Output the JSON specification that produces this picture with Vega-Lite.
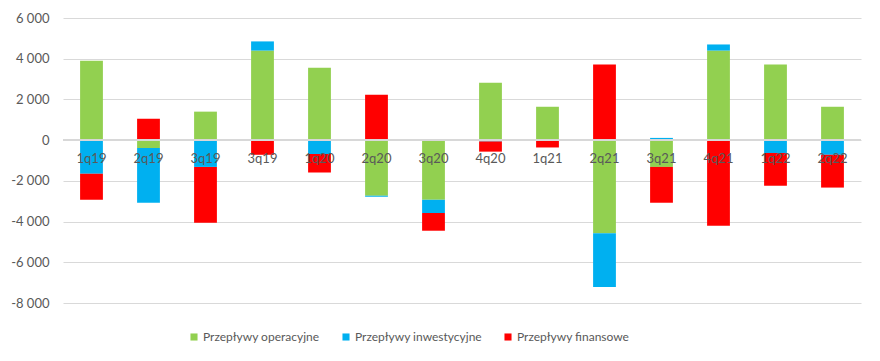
{
  "$schema": "https://vega.github.io/schema/vega-lite/v6.json",
  "width": 798,
  "height": 285,
  "autosize": "none",
  "padding": {"left": 63, "top": 18, "right": 19, "bottom": 58},
  "background": "white",
  "data": {
    "values": [
      {"q": "1q19", "s": "Przepływy operacyjne", "o": 1, "v": 3900},
      {"q": "1q19", "s": "Przepływy inwestycyjne", "o": 2, "v": -1650},
      {"q": "1q19", "s": "Przepływy finansowe", "o": 3, "v": -1280},
      {"q": "2q19", "s": "Przepływy operacyjne", "o": 1, "v": -380},
      {"q": "2q19", "s": "Przepływy inwestycyjne", "o": 2, "v": -2700},
      {"q": "2q19", "s": "Przepływy finansowe", "o": 3, "v": 1050},
      {"q": "3q19", "s": "Przepływy operacyjne", "o": 1, "v": 1400},
      {"q": "3q19", "s": "Przepływy inwestycyjne", "o": 2, "v": -1315},
      {"q": "3q19", "s": "Przepływy finansowe", "o": 3, "v": -2745},
      {"q": "4q19", "s": "Przepływy operacyjne", "o": 1, "v": 4400},
      {"q": "4q19", "s": "Przepływy inwestycyjne", "o": 2, "v": 450},
      {"q": "4q19", "s": "Przepływy finansowe", "o": 3, "v": -720},
      {"q": "1q20", "s": "Przepływy operacyjne", "o": 1, "v": 3560},
      {"q": "1q20", "s": "Przepływy inwestycyjne", "o": 2, "v": -675},
      {"q": "1q20", "s": "Przepływy finansowe", "o": 3, "v": -920},
      {"q": "2q20", "s": "Przepływy operacyjne", "o": 1, "v": -2730},
      {"q": "2q20", "s": "Przepływy inwestycyjne", "o": 2, "v": -50},
      {"q": "2q20", "s": "Przepływy finansowe", "o": 3, "v": 2230},
      {"q": "3q20", "s": "Przepływy operacyjne", "o": 1, "v": -2930},
      {"q": "3q20", "s": "Przepływy inwestycyjne", "o": 2, "v": -650},
      {"q": "3q20", "s": "Przepływy finansowe", "o": 3, "v": -870},
      {"q": "4q20", "s": "Przepływy operacyjne", "o": 1, "v": 2820},
      {"q": "4q20", "s": "Przepływy inwestycyjne", "o": 2, "v": -65},
      {"q": "4q20", "s": "Przepływy finansowe", "o": 3, "v": -500},
      {"q": "1q21", "s": "Przepływy operacyjne", "o": 1, "v": 1640},
      {"q": "1q21", "s": "Przepływy inwestycyjne", "o": 2, "v": 0},
      {"q": "1q21", "s": "Przepływy finansowe", "o": 3, "v": -360},
      {"q": "2q21", "s": "Przepływy operacyjne", "o": 1, "v": -4570},
      {"q": "2q21", "s": "Przepływy inwestycyjne", "o": 2, "v": -2645},
      {"q": "2q21", "s": "Przepływy finansowe", "o": 3, "v": 3710},
      {"q": "3q21", "s": "Przepływy operacyjne", "o": 1, "v": -1315},
      {"q": "3q21", "s": "Przepływy inwestycyjne", "o": 2, "v": 110},
      {"q": "3q21", "s": "Przepływy finansowe", "o": 3, "v": -1760},
      {"q": "4q21", "s": "Przepływy operacyjne", "o": 1, "v": 4400},
      {"q": "4q21", "s": "Przepływy inwestycyjne", "o": 2, "v": 300},
      {"q": "4q21", "s": "Przepływy finansowe", "o": 3, "v": -4210},
      {"q": "1q22", "s": "Przepływy operacyjne", "o": 1, "v": 3710},
      {"q": "1q22", "s": "Przepływy inwestycyjne", "o": 2, "v": -630},
      {"q": "1q22", "s": "Przepływy finansowe", "o": 3, "v": -1610},
      {"q": "2q22", "s": "Przepływy operacyjne", "o": 1, "v": 1640},
      {"q": "2q22", "s": "Przepływy inwestycyjne", "o": 2, "v": -720},
      {"q": "2q22", "s": "Przepływy finansowe", "o": 3, "v": -1610}
    ]
  },
  "layer": [
    {
      "mark": {"type": "bar"},
      "encoding": {
        "x": {
          "field": "q",
          "type": "nominal",
          "sort": null,
          "scale": {"paddingInner": 0.6, "paddingOuter": 0.3},
          "axis": {
            "title": null,
            "orient": "bottom",
            "offset": -163,
            "domain": false,
            "ticks": false,
            "labelAngle": 0,
            "labelPadding": 12,
            "zindex": 1,
            "labelExpr": "datum.value == '4q19' ? '3q19' : datum.value"
          }
        },
        "y": {
          "field": "v",
          "type": "quantitative",
          "stack": "zero",
          "scale": {"domain": [-8000, 6000], "nice": false},
          "axis": {
            "title": null,
            "values": [-8000, -6000, -4000, -2000, 0, 2000, 4000, 6000],
            "format": ",.0f",
            "domain": false,
            "ticks": false,
            "labelPadding": 14,
            "gridColor": "#d9d9d9"
          }
        },
        "color": {
          "field": "s",
          "type": "nominal",
          "scale": {
            "domain": ["Przepływy operacyjne", "Przepływy inwestycyjne", "Przepływy finansowe"],
            "range": ["#92D050", "#00B0F0", "#FF0000"]
          },
          "legend": {
            "title": null,
            "orient": "none",
            "direction": "horizontal",
            "legendX": 125,
            "legendY": 313,
            "symbolType": "square",
            "symbolSize": 50,
            "symbolStrokeWidth": 0,
            "labelOffset": 3,
            "columnPadding": 20
          }
        },
        "order": {"field": "o", "type": "quantitative"}
      }
    },
    {
      "mark": {"type": "rule", "color": "#d9d9d9", "strokeWidth": 1},
      "encoding": {"y": {"datum": 0}}
    }
  ],
  "config": {
    "locale": {
      "number": {"decimal": ",", "thousands": " ", "grouping": [3], "currency": ["", ""], "minus": "-"}
    },
    "view": {"stroke": null},
    "font": "Lato",
    "axis": {"labelFont": "Lato", "labelFontSize": 13, "labelColor": "#595959"},
    "legend": {"labelFont": "Lato", "labelFontSize": 12, "labelColor": "#595959"}
  }
}
